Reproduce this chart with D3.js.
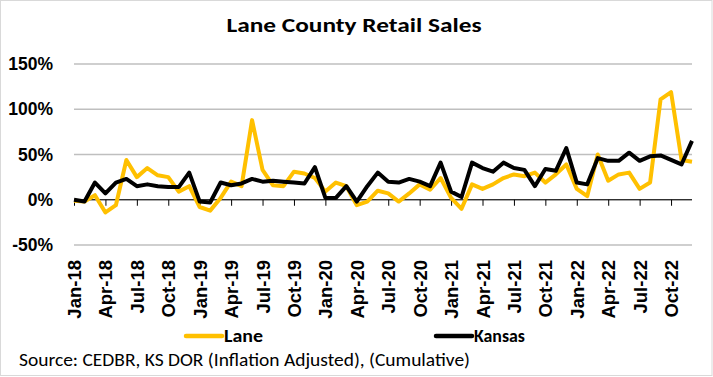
<!DOCTYPE html>
<html><head><meta charset="utf-8">
<script src="https://cdn.jsdelivr.net/npm/d3@7"></script>
<style>body{margin:0;background:#fff;}svg{display:block;}</style>
</head><body>
<svg id="c" width="713" height="377"></svg>
<script>
const months = [];
const monthNames = ["Jan","Feb","Mar","Apr","May","Jun","Jul","Aug","Sep","Oct","Nov","Dec"];
for (let y = 18; y <= 22; y++) for (let m = 0; m < 12; m++) months.push(monthNames[m] + "-" + y);

const lane = [-1,-2,5,-14,-6,44,25,35,27,25,9,15,
  -8,-12,2,20,15,88,33,16,15,31,29,24,
  9,19,15,-6,-2,10,7,-2,7,17,11,24,
  2,-10,17,12,17,24,28,26,30,19,28,39,
  12,4,50,21,28,30,12,19,111,119,44,42];
const kansas = [0,-2,19,7,19,23,15,17,15,14,14,30,
  -2,-3,19,16,18,23,20,21,20,19,18,36,
  2,2,15,-2,15,30,20,19,23,20,15,41,
  9,3,41,35,31,41,35,33,15,34,32,57,
  19,17,46,43,43,52,43,48,49,44,39,65];
const yTicks = [-50,0,50,100,150];

const svg = d3.select("#c");
const W = 713, H = 377;
svg.append("rect").attr("x",0.5).attr("y",0.5).attr("width",W-1.5).attr("height",H-2)
  .attr("fill","#fff").attr("stroke","#d9d9d9");

const left = 74, right = 692;
const x = d3.scalePoint().domain(months).range([left,right]);
const y = d3.scaleLinear().domain([-50,150]).range([245,64]);

// gridlines
svg.append("g").selectAll("line").data(yTicks).join("line")
  .attr("x1",left).attr("x2",right).attr("y1",d=>y(d)).attr("y2",d=>y(d))
  .attr("stroke","#bfbfbf").attr("stroke-width",1.5);

// y labels
svg.append("g").selectAll("text").data(yTicks).join("text")
  .attr("x",53).attr("y",d=>y(d)+6).attr("text-anchor","end")
  .attr("font-family","Liberation Sans, Arial, sans-serif").attr("font-weight","bold")
  .attr("font-size",17.5).attr("fill","#000").text(d=>d+"%");

// zero axis with ticks
const xAxis = d3.axisBottom(x).tickValues(months.filter((d,i)=>i%3===0)).tickSize(6).tickFormat("");
const ax = svg.append("g").attr("transform",`translate(0,${y(0)})`).call(xAxis);
ax.select(".domain").attr("stroke","#000").attr("stroke-width",1).attr("d",`M${left},0H${right}`);
ax.selectAll(".tick line").attr("stroke","#000").attr("stroke-width",1);

// x labels
svg.append("g").selectAll("text").data(months.filter((d,i)=>i%3===0)).join("text")
  .attr("transform",d=>`translate(${x(d)+7},260) rotate(-90)`)
  .attr("text-anchor","end")
  .attr("font-family","Liberation Sans, Arial, sans-serif").attr("font-weight","bold")
  .attr("font-size",18.5).attr("fill","#000").text(d=>d);

const line = d3.line().x((d,i)=>x(months[i])).y(d=>y(d));
svg.append("path").datum(lane).attr("d",line).attr("fill","none")
  .attr("stroke","#FFC000").attr("stroke-width",4).attr("stroke-linejoin","round");
svg.append("path").datum(kansas).attr("d",line).attr("fill","none")
  .attr("stroke","#000").attr("stroke-width",4).attr("stroke-linejoin","round");

// title
svg.append("text").attr("x",354).attr("y",32).attr("text-anchor","middle")
  .attr("font-family","Carlito, 'Open Sans', sans-serif").attr("font-weight","bold")
  .attr("font-size",21).attr("textLength",255).attr("lengthAdjust","spacingAndGlyphs")
  .text("Lane County Retail Sales");

// legend
const legend = [{name:"Lane",color:"#FFC000",x1:186,w:39},{name:"Kansas",color:"#000",x1:436,w:51}];
const lg = svg.append("g").selectAll("g").data(legend).join("g");
lg.append("line").attr("x1",d=>d.x1).attr("x2",d=>d.x1+36).attr("y1",336).attr("y2",336)
  .attr("stroke",d=>d.color).attr("stroke-width",4.5).attr("stroke-linecap","round");
lg.append("text").attr("x",d=>d.x1+38).attr("y",342)
  .attr("font-family","Carlito, 'Open Sans', sans-serif").attr("font-weight","bold")
  .attr("font-size",18).attr("textLength",d=>d.w).attr("lengthAdjust","spacingAndGlyphs")
  .text(d=>d.name);

// source
svg.append("text").attr("x",19).attr("y",366)
  .attr("font-family","Carlito, 'Open Sans', sans-serif")
  .attr("font-size",18).attr("textLength",451).attr("lengthAdjust","spacingAndGlyphs")
  .text("Source: CEDBR, KS DOR (Inflation Adjusted), (Cumulative)");
</script>
</body></html>
